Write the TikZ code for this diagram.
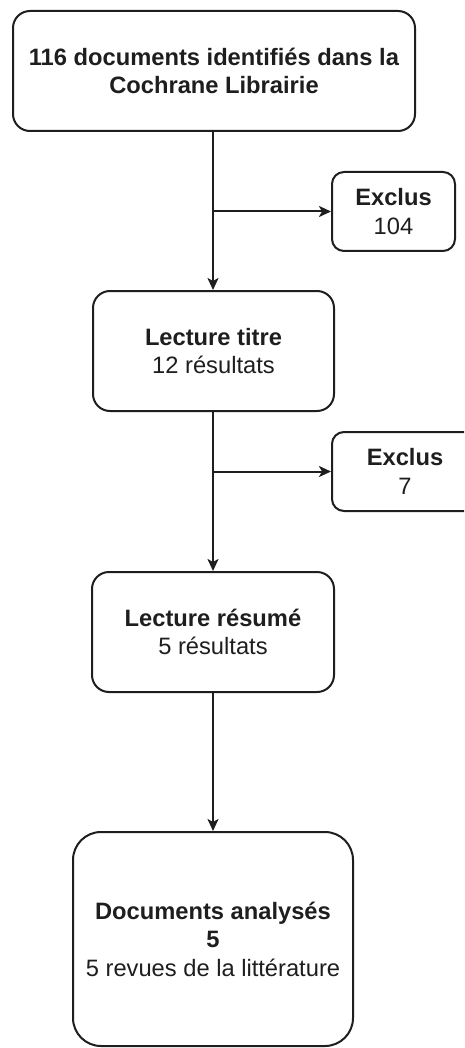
\documentclass[tikz,border=0pt]{standalone}
\usepackage{fontspec}
\setmainfont{Liberation Sans}
\usetikzlibrary{arrows.meta}
\definecolor{ink}{RGB}{30,30,30}
\tikzset{
  box/.style={draw=ink, line width=2pt, fill=white, inner sep=0pt, align=center,
    text=ink, font=\fontsize{23.7}{28.5}\selectfont},
  flow/.style={draw=ink, line width=2pt, -{Stealth[length=12pt,width=11pt,inset=3pt]}}
}
\begin{document}
\begin{tikzpicture}[x=1pt,y=-1pt]
\useasboundingbox (0,0) rectangle (464,1048);
\clip (0,0) rectangle (464,1048);
\fill[white] (0,0) rectangle (464,1048);
\node[box, rounded corners=17pt, minimum width=402pt, minimum height=120pt] (b1) at (214,71)
  {\textbf{116 documents identifiés dans la}\\\textbf{Cochrane Librairie}};
\node[box, rounded corners=12pt, minimum width=123pt, minimum height=79pt] (e1) at (393.5,211.5)
  {\textbf{Exclus}\\104};
\node[box, rounded corners=17pt, minimum width=241pt, minimum height=120pt] (b2) at (213.5,351)
  {\textbf{Lecture titre}\\12 résultats};
\node[box, rounded corners=12pt, minimum width=146pt, minimum height=79pt] (e2) at (405,471.5)
  {\textbf{Exclus}\\7};
\node[box, rounded corners=17pt, minimum width=242pt, minimum height=120pt] (b3) at (213,632)
  {\textbf{Lecture résumé}\\5 résultats};
\node[box, rounded corners=28pt, minimum width=280pt, minimum height=214pt] (b4) at (213,939)
  {\textbf{Documents analysés}\\\textbf{5}\\5 revues de la littérature};
\coordinate (j1) at (213,211.5);
\coordinate (j2) at (213,471.5);
\draw[flow] (b1.south -| j1) -- (b2.north -| j1);
\draw[flow] (j1) -- (e1.west);
\draw[flow] (b2.south -| j2) -- (b3.north -| j2);
\draw[flow] (j2) -- (e2.west);
\draw[flow] (b3.south) -- (b4.north);
\end{tikzpicture}
\end{document}
